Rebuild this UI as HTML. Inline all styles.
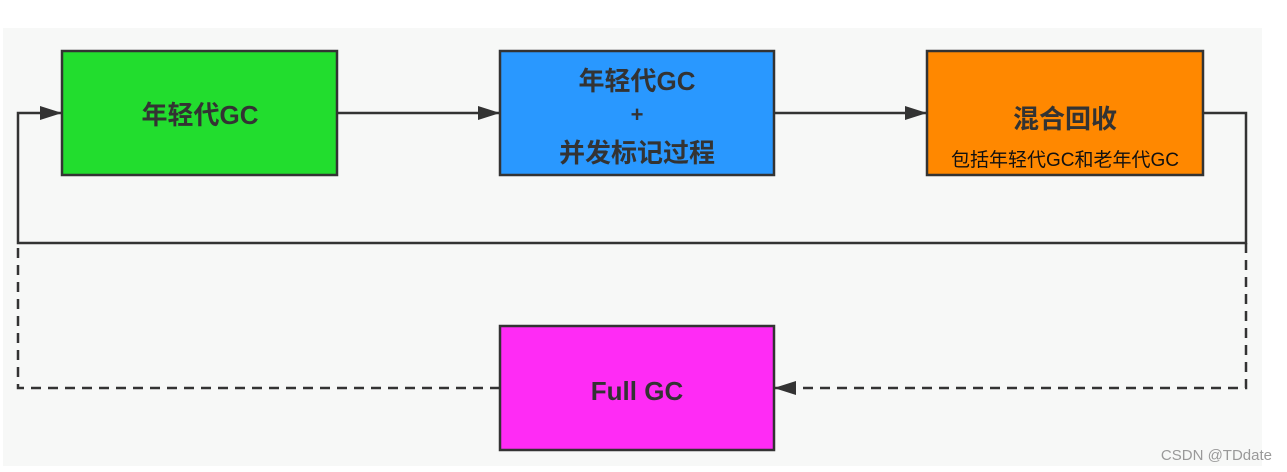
<!DOCTYPE html>
<html><head><meta charset="utf-8"><style>
body{margin:0;width:1287px;height:472px;background:#fff;overflow:hidden;font-family:"Liberation Sans","Noto Sans CJK SC",sans-serif}
</style></head><body>
<svg width="1287" height="472" xmlns="http://www.w3.org/2000/svg" style="position:absolute;left:0;top:0">
<defs><marker id="a" markerWidth="10" markerHeight="10" refX="9" refY="5" orient="auto" markerUnits="userSpaceOnUse"><path d="M0,0 L10,5 L0,10 z" fill="#333"/></marker>
<marker id="b" markerWidth="22" markerHeight="14" refX="21" refY="7" orient="auto" markerUnits="userSpaceOnUse"><path d="M0,0 L22,7 L0,14 z" fill="#333"/></marker></defs>
<rect x="3" y="28" width="1259" height="438" fill="#f7f8f7"/>
<g stroke="#333" stroke-width="2.5" fill="none">
<line x1="337" y1="113" x2="499" y2="113" marker-end="url(#b)"/>
<line x1="774" y1="113" x2="926" y2="113" marker-end="url(#b)"/>
<polyline points="1203,113 1246,113 1246,243 18,243 18,113 61,113" marker-end="url(#b)"/>
<polyline points="1246,243 1246,388 775,388" stroke-dasharray="10,7" marker-end="url(#b)"/>
<polyline points="500,388 18,388 18,243" stroke-dasharray="10,7"/>
</g>
<g stroke="#333" stroke-width="2.5">
<rect x="62" y="51" width="275" height="124" fill="#22dd2e"/>
<rect x="500" y="51" width="274" height="124" fill="#2998ff"/>
<rect x="927" y="51" width="276" height="124" fill="#ff8800"/>
<rect x="500" y="326" width="274" height="124" fill="#ff2bf5"/>
</g>
<g fill="#333" font-weight="bold" font-size="26" text-anchor="middle">
<text x="200" y="124">年轻代GC</text>
<text x="637" y="90">年轻代GC</text>
<text x="637" y="122" font-size="22">+</text>
<text x="637" y="162">并发标记过程</text>
<text x="1065" y="128">混合回收</text>
<text x="637" y="400">Full GC</text>
</g>
<text x="1065" y="166" font-size="19" text-anchor="middle" fill="#111">包括年轻代GC和老年代GC</text>
<text x="1272" y="460" font-size="15" text-anchor="end" fill="#999">CSDN @TDdate</text>
</svg>
</body></html>
